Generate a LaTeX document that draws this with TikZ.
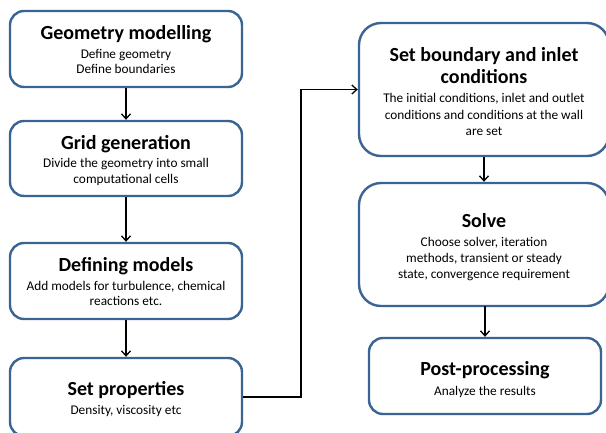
\documentclass[tikz,border=0pt]{standalone}
\usepackage{fontspec}
\setmainfont{Carlito}
\usetikzlibrary{arrows.meta}
\definecolor{boxblue}{HTML}{3A6494}
\tikzset{
  box/.style={draw=boxblue, line width=2.4pt, fill=white, rounded corners=14pt, inner sep=0pt},
  bigbox/.style={box, rounded corners=22pt},
  ttl/.style={anchor=base, font=\fontsize{20}{24}\selectfont\bfseries, inner sep=0pt},
  bdy/.style={anchor=base, font=\fontsize{13.3}{16}\selectfont, inner sep=0pt},
  arr/.style={draw=black, line width=1.5pt, -{Straight Barb[length=5pt,width=9pt,line width=1.3pt]}}
}
\begin{document}
\begin{tikzpicture}[x=1pt,y=-1pt]
\useasboundingbox (0,0) rectangle (606,432);
% boxes
\node[box, minimum width=232pt, minimum height=76pt] (b1) at (126,49) {};
\node[box, minimum width=232pt, minimum height=75pt] (b2) at (126,158.5) {};
\node[box, minimum width=232pt, minimum height=76pt] (b3) at (126,281) {};
\node[box, minimum width=232pt, minimum height=78pt] (b4) at (126,397) {};
\node[bigbox, minimum width=250pt, minimum height=133pt] (b5) at (484,89.5) {};
\node[bigbox, minimum width=250pt, minimum height=123pt] (b6) at (484,244.5) {};
\node[box, minimum width=232pt, minimum height=76pt] (b7) at (485,376) {};
% texts
\node[ttl] (t1) at (126,39.3) {Geometry modelling};
\node[bdy] (t1a) at (126,58.3) {Define geometry};
\node[bdy] (t1b) at (126,73.3) {Define boundaries};
\node[ttl] (t2) at (126,149.3) {Grid generation};
\node[bdy] (t2a) at (126,167.7) {Divide the geometry into small};
\node[bdy] (t2b) at (126,183.3) {computational cells};
\node[ttl] (t3) at (126,271) {Defining models};
\node[bdy] (t3a) at (126,290) {Add models for turbulence, chemical};
\node[bdy] (t3b) at (126,305.7) {reactions etc.};
\node[ttl] (t4) at (126,395) {Set properties};
\node[bdy] (t4a) at (126,414) {Density, viscosity etc};
\node[ttl] (t5) at (484,61) {Set boundary and inlet};
\node[ttl] (t5b) at (484,83.3) {conditions};
\node[bdy] (t5c) at (484,102.7) {The initial conditions, inlet and outlet};
\node[bdy] (t5d) at (484,119) {conditions and conditions at the wall};
\node[bdy] (t5e) at (484,135.7) {are set};
\node[ttl] (t6) at (484,227.3) {Solve};
\node[bdy] (t6a) at (484,246) {Choose solver, iteration};
\node[bdy] (t6b) at (484,262.3) {methods, transient or steady};
\node[bdy] (t6c) at (484,278.3) {state, convergence requirement};
\node[ttl] (t7) at (485,375.7) {Post-processing};
\node[bdy] (t7a) at (485,395) {Analyze the results};
% connectors
\draw[arr] (b1) -- (b2);
\draw[arr] (b2) -- (b3);
\draw[arr] (b3) -- (b4);
\draw[arr] (b4.east) -- ++(58,0) |- (b5.west);
\draw[arr] (b5) -- (b6);
\draw[arr] (b6.south) -- (b6.south -| b7.north) -- (b7.north);
\end{tikzpicture}
\end{document}
